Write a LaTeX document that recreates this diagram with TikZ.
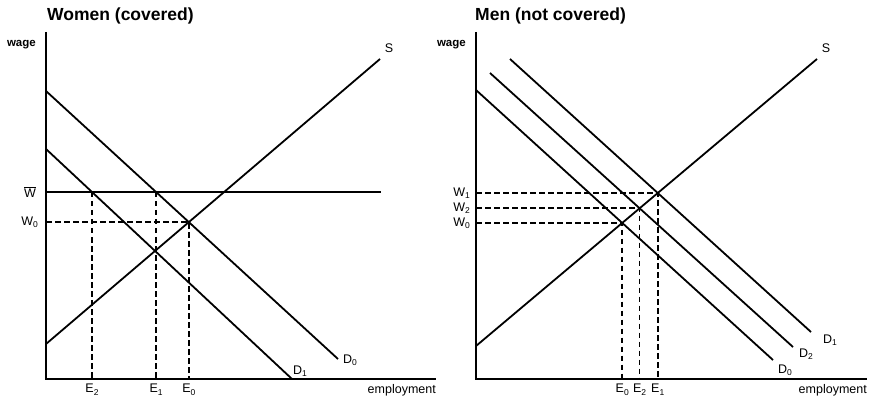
\documentclass[tikz,border=0pt]{standalone}
\usepackage{fontspec}
\setmainfont{Liberation Sans}
\usetikzlibrary{positioning}
\newcommand{\sbs}[1]{\raisebox{-0.35ex}{\fontsize{8.5}{9}\selectfont #1}}

\begin{document}
\begin{tikzpicture}[x=1pt,y=-1pt,line join=miter,
  axisline/.style={line width=2.6pt},
  curveline/.style={line width=1.8pt},
  wbarline/.style={line width=1.2pt},
  dashline/.style={line width=1.7pt,dash pattern=on 5.5pt off 3.5pt},
  lbl/.style={font=\fontsize{12.5}{13}\selectfont,inner sep=0pt},
  axislbl/.style={font=\fontsize{11.5}{13}\selectfont\bfseries,inner sep=0pt},
  paneltitle/.style={font=\fontsize{17.5}{19}\selectfont\bfseries,inner sep=0pt,anchor=base west}]
\useasboundingbox (0,0) rectangle (877,403);
% ---- women (covered)
\coordinate (oL) at (46,379);
\coordinate (yL) at (46,32);
\coordinate (xL) at (436,379);
\coordinate (sL1) at (46,344);  \coordinate (sL2) at (380,59);
\coordinate (d0L1) at (46,91);  \coordinate (d0L2) at (338,359);
\coordinate (d1L1) at (46,149); \coordinate (d1L2) at (292,379);
\coordinate (wbL1) at (46,192); \coordinate (wbL2) at (381,192);
\coordinate (e0L) at (intersection of sL1--sL2 and d0L1--d0L2);
\coordinate (e1L) at (intersection of d0L1--d0L2 and wbL1--wbL2);
\coordinate (e2L) at (intersection of d1L1--d1L2 and wbL1--wbL2);
\coordinate (w0L) at (e0L -| oL);
\coordinate (e0Lb) at (e0L |- oL);
\coordinate (e1Lb) at (e1L |- oL);
\coordinate (e2Lb) at (e2L |- oL);
\draw[dashline] (w0L) -- (e0L) -- (e0Lb);
\draw[dashline] (e1L) -- (e1Lb);
\draw[dashline] (e2L) -- (e2Lb);
\draw[wbarline] (wbL1) -- (wbL2);
\draw[curveline] (sL1) -- (sL2);
\draw[curveline] (d0L1) -- (d0L2);
\draw[curveline] (d1L1) -- (d1L2);
\draw[axisline] (yL) -- (oL) -- (xL);
\node[paneltitle] (titleL) at (47,21) {Women (covered)};
\node[axislbl,anchor=base east] (wageL) at ([xshift=-10pt,yshift=-14.5pt]yL) {wage};
\node[lbl,below left=5pt and 0pt of xL] (empL) {employment};
\node[lbl] (sLlab) at ([xshift=9pt,yshift=11pt]sL2) {S};
\node[lbl,anchor=base west] (d0Llab) at ([xshift=5pt,yshift=-4pt]d0L2) {D\sbs{0}};
\node[lbl,anchor=base west] (d1Llab) at ([xshift=1pt,yshift=5pt]d1L2) {D\sbs{1}};
\node[lbl,left=10pt of wbL1] (wbLlab) {$\overline{\hbox{W}}$};
\node[lbl,left=8pt of w0L] (w0Llab) {W\sbs{0}};
\node[lbl,below=5pt of e0Lb] (e0Llab) {E\sbs{0}};
\node[lbl,below=5pt of e1Lb] (e1Llab) {E\sbs{1}};
\node[lbl,below=5pt of e2Lb] (e2Llab) {E\sbs{2}};
% ---- men (not covered)
\coordinate (oR) at (476,379);
\coordinate (yR) at (476,32);
\coordinate (xR) at (867,379);
\coordinate (sR1) at (476,346); \coordinate (sR2) at (817,59);
\coordinate (d0R1) at (476,90); \coordinate (d0R2) at (773,360);
\coordinate (d2R1) at (490,73); \coordinate (d2R2) at (793,347);
\coordinate (d1R1) at (510,59); \coordinate (d1R2) at (811,332);
\coordinate (e0R) at (intersection of sR1--sR2 and d0R1--d0R2);
\coordinate (e2R) at (intersection of sR1--sR2 and d2R1--d2R2);
\coordinate (e1R) at (intersection of sR1--sR2 and d1R1--d1R2);
\coordinate (w0R) at (e0R -| oR);
\coordinate (w2R) at (e2R -| oR);
\coordinate (w1R) at (e1R -| oR);
\coordinate (e0Rb) at (e0R |- oR);
\coordinate (e2Rb) at (e2R |- oR);
\coordinate (e1Rb) at (e1R |- oR);
\draw[dashline] (w0R) -- (e0R) -- (e0Rb);
\draw[dashline] (w2R) -- (e2R) -- (e2Rb);
\draw[dashline] (w1R) -- (e1R) -- (e1Rb);
\draw[curveline] (sR1) -- (sR2);
\draw[curveline] (d0R1) -- (d0R2);
\draw[curveline] (d2R1) -- (d2R2);
\draw[curveline] (d1R1) -- (d1R2);
\draw[axisline] (yR) -- (oR) -- (xR);
\node[paneltitle] (titleR) at (475,21) {Men (not covered)};
\node[axislbl,anchor=base east] (wageR) at ([xshift=-10pt,yshift=-14.5pt]yR) {wage};
\node[lbl,below left=5pt and 0pt of xR] (empR) {employment};
\node[lbl] (sRlab) at ([xshift=9pt,yshift=11pt]sR2) {S};
\node[lbl,anchor=base west] (d0Rlab) at ([xshift=5pt,yshift=-13pt]d0R2) {D\sbs{0}};
\node[lbl,anchor=base west] (d2Rlab) at ([xshift=6pt,yshift=-10pt]d2R2) {D\sbs{2}};
\node[lbl,anchor=base west] (d1Rlab) at ([xshift=12pt,yshift=-11pt]d1R2) {D\sbs{1}};
\node[lbl,left=6pt of w1R] (w1Rlab) {W\sbs{1}};
\node[lbl,left=6pt of w2R] (w2Rlab) {W\sbs{2}};
\node[lbl,left=6pt of w0R] (w0Rlab) {W\sbs{0}};
\node[lbl,below=5pt of e0Rb] (e0Rlab) {E\sbs{0}};
\node[lbl,below=5pt of e2Rb] (e2Rlab) {E\sbs{2}};
\node[lbl,below=5pt of e1Rb] (e1Rlab) {E\sbs{1}};
\end{tikzpicture}
\end{document}
